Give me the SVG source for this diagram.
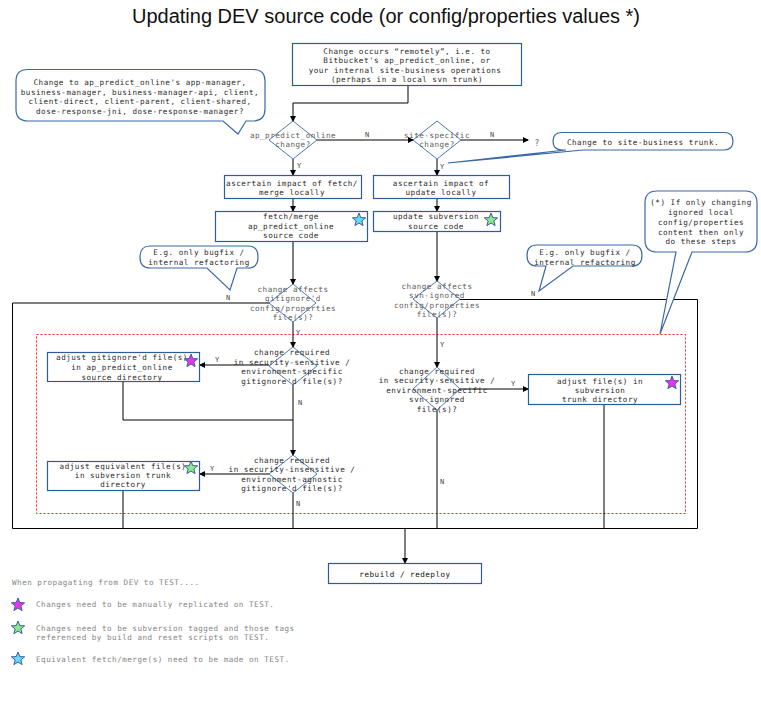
<svg xmlns="http://www.w3.org/2000/svg" xmlns:xlink="http://www.w3.org/1999/xlink" width="761" height="701" viewBox="0 0 761 701">
<style>
text{font-family:"DejaVu Sans Mono","Liberation Mono",monospace;font-size:7.6px;letter-spacing:0.5px;fill:#2a2a2a;text-anchor:middle}
.title{font-family:"Liberation Sans",Arial,sans-serif;font-size:20px;letter-spacing:0;fill:#111}
.dl{fill:#606060}
.lbl{font-size:7px;fill:#444;letter-spacing:0}
.leg{fill:#858585;text-anchor:start}
.box{fill:#fff;stroke:#2e5c99;stroke-width:1.2}
.dia{fill:none;stroke:#4a7ab8;stroke-width:1}
.call{fill:#fff;stroke:#3a68a8;stroke-width:1.2}
.con{fill:none;stroke:#000;stroke-width:1}
.arr{marker-end:url(#ah)}
.red{fill:none;stroke:#ff2020;stroke-width:1;stroke-dasharray:2,2}
.mag{fill:#f030f0}.grn{fill:#8be88b}.cyn{fill:#66d8f8}
</style>
<defs>
<marker id="ah" markerWidth="6" markerHeight="6" refX="5" refY="3" orient="auto" markerUnits="userSpaceOnUse"><path d="M0,0 L6,3 L0,6 Z" fill="#000"/></marker>
<path id="star" d="M0,-7 L1.76,-2.43 L6.66,-2.16 L2.85,0.93 L4.11,5.66 L0,3 L-4.11,5.66 L-2.85,0.93 L-6.66,-2.16 L-1.76,-2.43 Z" stroke="#3a5fa0" stroke-width="1"/>
</defs>
<rect width="761" height="701" fill="#fff"/>
<text class="title" x="386" y="23">Updating DEV source code (or config/properties values *)</text>

<g id="frame">
<rect class="red" x="36.5" y="334.5" width="649" height="179"/>
</g>

<g id="connectors">
<path class="con arr" d="M408,85 V103 H293 V121"/>
<path class="con arr" d="M317,140 H413"/>
<path class="con arr" d="M461,140 H528"/>
<path class="con arr" d="M293,159 V175"/>
<path class="con arr" d="M437,159 V175"/>
<path class="con arr" d="M293,198 V211"/>
<path class="con arr" d="M437,198 V211"/>
<path class="con arr" d="M293,241 V284"/>
<path class="con arr" d="M437,232 V281"/>
<path class="con" d="M269,303 H12.5 V528.5 H405"/>
<path class="con" d="M460,299.5 H697.5 V528.5 H405"/>
<path class="con arr" d="M405,528 V563"/>
<path class="con arr" d="M293,322 V347"/>
<path class="con arr" d="M269,365 H200"/>
<path class="con arr" d="M293,385 V455"/>
<path class="con" d="M123,382 V420 H293"/>
<path class="con arr" d="M269,474 H200"/>
<path class="con" d="M123,491 V528"/>
<path class="con" d="M293,493 V528"/>
<path class="con arr" d="M437,318 V367"/>
<path class="con arr" d="M460,389 H528"/>
<path class="con" d="M604,404 V528"/>
<path class="con" d="M437,410 V528"/>
<text class="lbl" x="367" y="137">N</text>
<text class="lbl" x="492" y="137">N</text>
<text class="lbl" x="537" y="146" style="font-size:8px;fill:#666">?</text>
<text class="lbl" x="299" y="168">Y</text>
<text class="lbl" x="442" y="169">Y</text>
<text class="lbl" x="228" y="300">N</text>
<text class="lbl" x="533" y="296">N</text>
<text class="lbl" x="298" y="335">Y</text>
<text class="lbl" x="217" y="362">Y</text>
<text class="lbl" x="300" y="405">N</text>
<text class="lbl" x="212" y="471">Y</text>
<text class="lbl" x="298" y="506">N</text>
<text class="lbl" x="442" y="347">Y</text>
<text class="lbl" x="513" y="386">Y</text>
<text class="lbl" x="442" y="484">N</text>
</g>

<g id="start">
<rect class="box" x="292.5" y="43.5" width="229" height="42"/>
<text x="407" y="54">Change occurs “remotely”, i.e. to</text>
<text x="407" y="63.3">Bitbucket's ap_predict_online, or</text>
<text x="405" y="72.6">your internal site-business operations</text>
<text x="407" y="82">(perhaps in a local svn trunk)</text>
</g>

<g id="callout-apps">
<path class="call" d="M28,69.5 H253 Q265,69.5 265,81 V109 Q265,121 253,121 H246 L238,134 L223,121 H28 Q16,121 16,109 V81 Q16,69.5 28,69.5 Z"/>
<text x="140" y="85">Change to ap_predict_online's app-manager,</text>
<text x="140" y="94.5">business-manager, business-manager-api, client,</text>
<text x="140" y="104">client-direct, client-parent, client-shared,</text>
<text x="140" y="113.5">dose-response-jni, dose-response-manager?</text>
</g>

<g id="d-apo">
<path class="dia" d="M293,121 L317,140 L293,159 L269,140 Z"/>
<text class="dl" x="293" y="137.5">ap_predict_online</text>
<text class="dl" x="293" y="147">change?</text>
</g>

<g id="d-site">
<path class="dia" d="M437,121 L461,140 L437,159 L413,140 Z"/>
<text class="dl" x="437" y="137.5">site-specific</text>
<text class="dl" x="437" y="147">change?</text>
</g>

<g id="callout-site">
<path class="call" d="M562,132.5 H724 Q733,132.5 733,141 Q733,150 724,150 H583 L448,163 L566,150 H562 Q553,150 553,141 Q553,132.5 562,132.5 Z"/>
<text x="643" y="144.5">Change to site-business trunk.</text>
</g>

<g id="ascertain-fetch">
<rect class="box" x="224.5" y="175.5" width="137" height="23"/>
<text x="292" y="186">ascertain impact of fetch/</text>
<text x="292" y="195">merge locally</text>
</g>

<g id="ascertain-update">
<rect class="box" x="373.5" y="175.5" width="136" height="23"/>
<text x="441" y="186">ascertain impact of</text>
<text x="441" y="195">update locally</text>
</g>

<g id="fetch-merge">
<rect class="box" x="215.5" y="211.5" width="152" height="30"/>
<text x="291" y="219">fetch/merge</text>
<text x="291" y="228.5">ap_predict_online</text>
<text x="291" y="238">source code</text>
<use href="#star" class="cyn" x="359" y="220"/>
</g>

<g id="update-svn">
<rect class="box" x="373.5" y="211.5" width="127" height="20"/>
<text x="436" y="219">update subversion</text>
<text x="436" y="229">source code</text>
<use href="#star" class="grn" x="491" y="220"/>
</g>

<g id="callout-bugfix-left">
<path class="call" d="M150,246 H248 Q258,246 258,257 Q258,268 248,268 H237 L230,290 L207,268 H150 Q140,268 140,257 Q140,246 150,246 Z"/>
<text x="199" y="255">E.g. only bugfix /</text>
<text x="199" y="265">internal refactoring</text>
</g>

<g id="callout-bugfix-right">
<path class="call" d="M537,245 H632 Q642,245 642,255.5 Q642,266 632,266 H573 L539,291 L546,266 H537 Q527,266 527,255.5 Q527,245 537,245 Z"/>
<text x="585" y="255">E.g. only bugfix /</text>
<text x="585" y="265">internal refactoring</text>
</g>

<g id="callout-note">
<path class="call" d="M657,191 H745 Q757,191 757,203 V240 Q757,252 745,252 H692 L660,334 L676,252 H657 Q645,252 645,240 V203 Q645,191 657,191 Z"/>
<text x="701" y="205">(*) If only changing</text>
<text x="701" y="215">ignored local</text>
<text x="701" y="225">config/properties</text>
<text x="701" y="234.5">content then only</text>
<text x="701" y="244">do these steps</text>
</g>

<g id="d-gitignored">
<path class="dia" d="M293,284 L316,303 L293,322 L269,303 Z"/>
<text class="dl" x="293" y="292">change affects</text>
<text class="dl" x="293" y="301">gitignore'd</text>
<text class="dl" x="293" y="311">config/properties</text>
<text class="dl" x="293" y="320">file(s)?</text>
</g>

<g id="d-svnignored">
<path class="dia" d="M437,281 L460,299 L437,318 L413,299 Z"/>
<text class="dl" x="437" y="289">change affects</text>
<text class="dl" x="437" y="298">svn-ignored</text>
<text class="dl" x="437" y="308">config/properties</text>
<text class="dl" x="437" y="317">file(s)?</text>
</g>

<g id="d-git-sensitive">
<path class="dia" d="M293,347 L317,366 L293,385 L269,366 Z"/>
<text x="292" y="355">change required</text>
<text x="292" y="365">in security-sensitive /</text>
<text x="292" y="374">environment-specific</text>
<text x="292" y="384">gitignore'd file(s)?</text>
</g>

<g id="adjust-gitignored">
<rect class="box" x="47.5" y="352.5" width="152" height="29"/>
<text x="122" y="360">adjust gitignore'd file(s)</text>
<text x="122" y="370">in ap_predict_online</text>
<text x="122" y="380">source directory</text>
<use href="#star" class="mag" x="191" y="361"/>
</g>

<g id="d-git-insensitive">
<path class="dia" d="M293,455 L317,474 L293,493 L269,474 Z"/>
<text x="292" y="463">change required</text>
<text x="292" y="472">in security-insensitive /</text>
<text x="292" y="482">environment-agnostic</text>
<text x="292" y="491">gitignore'd file(s)?</text>
</g>

<g id="adjust-equivalent">
<rect class="box" x="47.5" y="461.5" width="152" height="29"/>
<text x="123" y="469">adjust equivalent file(s)</text>
<text x="123" y="478">in subversion trunk</text>
<text x="123" y="487">directory</text>
<use href="#star" class="grn" x="191" y="468"/>
</g>

<g id="d-svn-sensitive">
<path class="dia" d="M437,367 L460,389 L437,410 L413,389 Z"/>
<text x="437" y="374">change required</text>
<text x="437" y="383">in security-sensitive /</text>
<text x="437" y="393">environment-specific</text>
<text x="437" y="402">svn-ignored</text>
<text x="437" y="412">file(s)?</text>
</g>

<g id="adjust-svn">
<rect class="box" x="528.5" y="374.5" width="152" height="30"/>
<text x="600" y="384">adjust file(s) in</text>
<text x="600" y="393">subversion</text>
<text x="600" y="402">trunk directory</text>
<use href="#star" class="mag" x="672" y="383"/>
</g>

<g id="rebuild">
<rect class="box" x="328.5" y="563.5" width="153" height="20"/>
<text x="405" y="577" style="fill:#111">rebuild / redeploy</text>
</g>

<g id="legend">
<text class="leg" x="12" y="585">When propagating from DEV to TEST....</text>
<use href="#star" class="mag" x="18" y="605"/>
<text class="leg" x="36" y="607">Changes need to be manually replicated on TEST.</text>
<use href="#star" class="grn" x="18" y="628"/>
<text class="leg" x="36" y="631">Changes need to be subversion tagged and those tags</text>
<text class="leg" x="36" y="640">referenced by build and reset scripts on TEST.</text>
<use href="#star" class="cyn" x="18" y="659"/>
<text class="leg" x="36" y="662">Equivalent fetch/merge(s) need to be made on TEST.</text>
</g>
</svg>
